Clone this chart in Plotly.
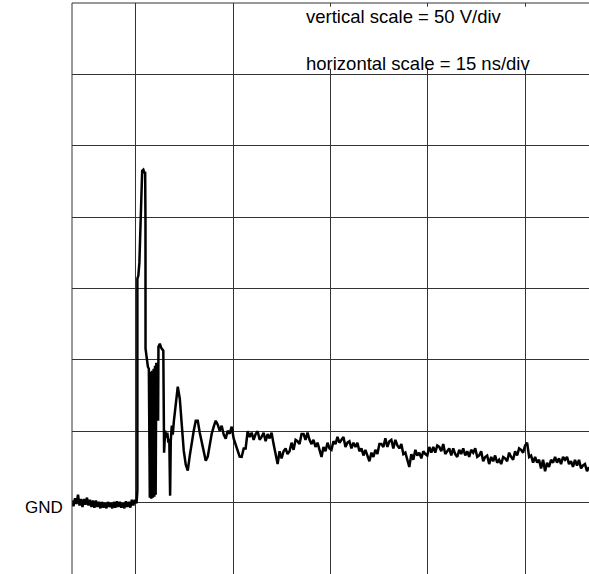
import plotly.graph_objects as go

# Oscilloscope capture: time in ns (15 ns/div), voltage in V (50 V/div), GND = 0 V
pre_t = [-9.85, -9.62, -9.38, -9.15, -8.92, -8.69, -8.46, -8.23, -8.00, -7.77, -7.54, -7.31,
         -7.08, -6.85, -6.62, -6.39, -6.16, -5.93, -5.70, -5.46, -5.23, -5.00, -4.77, -4.54,
         -4.31, -4.08, -3.85, -3.62, -3.39, -3.16, -2.93, -2.70, -2.47, -2.24, -2.00, -1.77,
         -1.54, -1.31, -1.08, -0.85, -0.62, -0.39, -0.16, 0.08, 0.15]
pre_v = [1.5, -2.5, 3.0, -1.0, 5.5, -2.0, 2.5, -3.0, 2.5, -1.5, 3.5, -2.0, 2.0, -3.0, 1.5,
         -3.5, 1.5, -3.0, 0.5, -4.0, 0.5, -3.5, -0.5, -4.0, 0.5, -3.0, -0.5, -4.0, 0.5, -3.5,
         1.0, -3.0, 0.5, -3.5, -0.5, -4.0, 1.0, -3.0, 0.5, -3.5, 2.0, -2.0, 2.0, -0.5, 2.5]

pulse_t = [0.23, 0.23, 0.38, 0.54, 0.69, 0.77, 0.89, 0.97, 1.15, 1.31, 1.43, 1.48, 1.49,
           1.65, 1.85, 2.00, 2.15, 2.28, 2.38, 2.51, 2.62, 2.74, 2.85, 2.95, 3.05, 3.15,
           3.43, 3.48, 3.69, 3.89, 4.23, 4.35, 4.51, 4.69, 4.85, 5.00, 5.15, 5.28, 5.38,
           5.54, 5.69, 5.85]
pulse_v = [8.4, 156.9, 159.0, 168.1, 187.0, 204.5, 222.0, 232.5, 233.2, 231.1, 231.8, 197.5,
           107.8, 100.8, 95.2, 93.8, 3.5, 91.7, 2.8, 92.4, 3.5, 93.8, 4.2, 95.9, 5.6, 98.0,
           57.4, 109.2, 111.3, 108.5, 106.4, 35.0, 50.4, 45.5, 49.0, 42.0, 44.8, 4.9, 43.4,
           53.9, 47.6, 56.7]

tail_t = [6.15, 6.46, 6.77, 7.08, 7.38, 7.69, 8.00, 8.31, 8.62, 8.92, 9.23, 9.54, 9.85,
          10.15, 10.46, 10.77, 11.08, 11.38, 11.69, 12.00, 12.31, 12.62, 12.92, 13.23, 13.54,
          13.85, 14.15, 14.46, 14.77, 15.08, 15.38, 15.69, 16.00, 16.31, 16.62, 16.92, 17.23,
          17.54, 17.85, 18.15, 18.46, 18.77, 19.08, 19.38, 19.69, 20.00, 20.31, 20.62, 20.92,
          21.23, 21.54, 21.85, 22.15, 22.46, 22.77, 23.08, 23.38, 23.69, 24.00, 24.31, 24.62,
          24.92, 25.23, 25.54, 25.85, 26.15, 26.46, 26.77, 27.08, 27.38, 27.69, 28.00, 28.31,
          28.62, 28.92, 29.23, 29.54, 29.85, 30.15, 30.46, 30.77, 31.08, 31.38, 31.69, 32.00,
          32.31, 32.62, 32.92, 33.23, 33.54, 33.85, 34.15, 34.46, 34.77, 35.08, 35.38, 35.69,
          36.00, 36.31, 36.62, 36.92, 37.23, 37.54, 37.85, 38.15, 38.46, 38.77, 39.08, 39.38,
          39.69, 40.00, 40.31, 40.62, 40.92, 41.23, 41.54, 41.85, 42.15, 42.46, 42.77, 43.08,
          43.38, 43.69, 44.00, 44.31, 44.62, 44.92, 45.23, 45.54, 45.85, 46.15, 46.46, 46.77,
          47.08, 47.38, 47.69, 48.00, 48.31, 48.62, 48.92, 49.23, 49.54, 49.85, 50.15, 50.46,
          50.77, 51.08, 51.38, 51.69, 52.00, 52.31, 52.62, 52.92, 53.23, 53.54, 53.85, 54.15,
          54.46, 54.77, 55.08, 55.38, 55.69, 56.00, 56.31, 56.62, 56.92, 57.23, 57.54, 57.85,
          58.15, 58.46, 58.77, 59.08, 59.38, 59.69, 60.00, 60.31, 60.62, 60.92, 61.23, 61.54,
          61.85, 62.15, 62.46, 62.77, 63.08, 63.38, 63.69, 64.00, 64.31, 64.62, 64.92, 65.23,
          65.54, 65.85, 66.15, 66.46, 66.77, 67.08, 67.38, 67.69, 68.00, 68.31, 68.62, 68.92,
          69.23, 69.54, 69.85]
tail_v = [71.4, 81.2, 72.8, 50.4, 36.4, 26.6, 22.4, 32.9, 43.4, 50.4, 57.4, 57.4, 49.0,
          42.0, 35.0, 29.4, 32.2, 41.3, 48.3, 53.2, 57.4, 54.6, 50.4, 53.9, 47.6,
          44.8, 50.4, 48.3, 53.2, 44.8, 40.6, 36.4, 32.2,
          32, 38, 38, 50, 46, 49, 44, 48, 50, 44, 46, 49,
          43, 48, 45, 49, 41, 33, 27, 36, 31, 36, 38, 34,
          36, 42, 37, 44, 43, 41, 48, 48, 44, 49, 44, 41,
          44, 39, 42, 37, 32, 39, 36, 42, 38, 37, 43, 41,
          46, 42, 44, 46, 39, 42, 43, 38, 42, 39, 42, 36,
          38, 33, 37, 33, 29, 35, 32, 37, 34, 41, 41, 39,
          45, 39, 43, 44, 38, 44, 40, 38, 41, 34, 35, 30,
          25, 34, 30, 37, 33, 35, 31, 36, 34, 33, 39, 35,
          39, 35, 40, 39, 36, 41, 34, 36, 38, 33, 38, 34,
          32, 37, 34, 38, 33, 36, 32, 37, 35, 38, 32, 33,
          36, 29, 32, 33, 27, 32, 29, 33, 28, 30, 27, 32,
          31, 29, 35, 32, 30, 36, 33, 38, 37, 35, 40, 42,
          32, 33, 28, 32, 28, 30, 24, 30, 22, 28, 25, 30,
          28, 32, 28, 31, 27, 32, 30, 32, 27, 29, 25, 30,
          26, 30, 24, 26, 27, 22, 25]

assert len(pre_t) == len(pre_v)
assert len(pulse_t) == len(pulse_v)
assert len(tail_t) == len(tail_v)

time_ns = pre_t + pulse_t + tail_t
volts = pre_v + pulse_v + tail_v

X_RANGE = [-9.846, 69.85]
Y_RANGE = [-50, 350]
GRID = "#333333"
FONT = "Liberation Sans, Arial, sans-serif"

fig = go.Figure()
fig.add_trace(go.Scatter(x=time_ns, y=volts, mode="lines",
                         line=dict(color="black", width=2.5), showlegend=False,
                         hoverinfo="skip"))

fig.update_layout(
    width=589, height=574,
    margin=dict(l=72, r=0, t=3, b=0),
    paper_bgcolor="white", plot_bgcolor="white",
    xaxis=dict(range=X_RANGE, tick0=0, dtick=15, showgrid=True, gridcolor=GRID,
               gridwidth=1, showticklabels=False, ticks="", zeroline=False,
               showline=False, fixedrange=True),
    yaxis=dict(range=Y_RANGE, tick0=0, dtick=50, showgrid=True, gridcolor=GRID,
               gridwidth=1, showticklabels=False, ticks="", zeroline=False,
               showline=False, fixedrange=True),
    shapes=[
        dict(type="line", xref="paper", yref="paper", x0=0, x1=0, y0=0, y1=1,
             line=dict(color=GRID, width=1)),
        dict(type="line", xref="paper", yref="paper", x0=0, x1=1, y0=1, y1=1,
             line=dict(color=GRID, width=1)),
        dict(type="rect", xref="x", yref="y", x0=25.2, x1=75, y0=303.9, y1=347.3,
             fillcolor="white", line=dict(width=0), layer="above"),
    ],
    annotations=[
        dict(text="vertical scale = 50 V/div", xref="x", yref="y", x=25.9, y=340.3,
             xanchor="left", yanchor="middle", showarrow=False,
             font=dict(family=FONT, size=18.5, color="black")),
        dict(text="horizontal scale = 15 ns/div", xref="x", yref="y", x=25.9, y=307.4,
             xanchor="left", yanchor="middle", showarrow=False,
             font=dict(family=FONT, size=18.5, color="black")),
        dict(text="GND", xref="paper", yref="y", x=-0.0135, y=0, yshift=-5,
             xanchor="right", yanchor="middle", showarrow=False,
             font=dict(family=FONT, size=17, color="black")),
    ],
)

fig.write_html("out.html", config={"displayModeBar": False},
               post_script="document.body.style.margin='0';document.body.style.padding='0';")
